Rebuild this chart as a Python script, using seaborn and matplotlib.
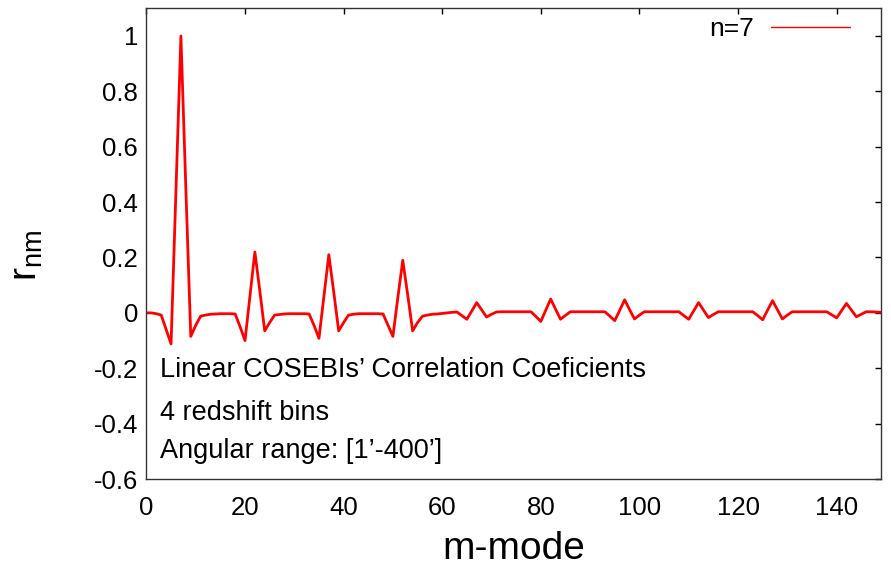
import matplotlib
matplotlib.use("Agg")
import matplotlib.pyplot as plt
from matplotlib.lines import Line2D
import seaborn as sns
import pandas as pd

m_mode = list(range(150))
r_nm = [
    0.0, 0.0, -0.003, -0.008, -0.06, -0.112, 0.44, 1.0, 0.45, -0.085,
    -0.045, -0.012, -0.008, -0.005, -0.004, -0.003, -0.003, -0.003, -0.004, -0.05,
    -0.1, 0.06, 0.22, 0.08, -0.065, -0.035, -0.008, -0.006, -0.004, -0.003,
    -0.003, -0.003, -0.003, -0.004, -0.045, -0.092, 0.06, 0.21, 0.075, -0.065,
    -0.035, -0.008, -0.005, -0.003, -0.003, -0.003, -0.003, -0.003, -0.004, -0.045,
    -0.085, 0.055, 0.19, 0.065, -0.065, -0.035, -0.012, -0.008, -0.005, -0.004,
    -0.002, 0.0, 0.002, 0.003, -0.01, -0.023, 0.007, 0.037, 0.011, -0.015,
    -0.005, 0.003, 0.004, 0.004, 0.004, 0.004, 0.004, 0.004, 0.004, -0.013,
    -0.031, 0.01, 0.05, 0.013, -0.023, -0.009, 0.004, 0.004, 0.004, 0.004,
    0.004, 0.004, 0.004, 0.004, -0.012, -0.028, 0.009, 0.047, 0.012, -0.022,
    -0.008, 0.004, 0.004, 0.004, 0.004, 0.004, 0.004, 0.004, 0.004, -0.01,
    -0.023, 0.007, 0.037, 0.01, -0.017, -0.006, 0.004, 0.004, 0.004, 0.004,
    0.004, 0.004, 0.004, 0.004, -0.01, -0.025, 0.01, 0.044, 0.011, -0.022,
    -0.008, 0.004, 0.004, 0.004, 0.004, 0.004, 0.004, 0.004, 0.004, -0.007,
    -0.018, 0.008, 0.034, 0.01, -0.014, -0.005, 0.004, 0.004, 0.003, 0.002,
]
x_ticks = [0, 20, 40, 60, 80, 100, 120, 140]
y_ticks = [-0.6, -0.4, -0.2, 0, 0.2, 0.4, 0.6, 0.8, 1]
y_tick_labels = ["-0.6", "-0.4", "-0.2", "0", "0.2", "0.4", "0.6", "0.8", "1"]
legend_label = "n=7"
info_lines = ["Linear COSEBIs\u2019 Correlation Coeficients",
              "4 redshift bins",
              "Angular range: [1\u2019-400\u2019]"]

sns.set_theme(style="white")
plt.rcParams["font.family"] = ["Liberation Sans", "DejaVu Sans"]
plt.rcParams["mathtext.fontset"] = "custom"
plt.rcParams["mathtext.rm"] = "Liberation Sans"
plt.rcParams["mathtext.it"] = "Liberation Sans"
plt.rcParams["axes.unicode_minus"] = False
plt.rcParams["text.color"] = "black"
plt.rcParams["axes.labelcolor"] = "black"

df = pd.DataFrame({"m": m_mode, "r": r_nm})

W, H = 891, 571
fig = plt.figure(figsize=(W / 100, H / 100), dpi=100)
ax = fig.add_axes([146.4 / W, 1 - 479 / H, (881 - 146.4) / W, (479 - 8.3) / H])

sns.lineplot(data=df, x="m", y="r", color="red", linewidth=2.0, ax=ax, legend=False)

ax.set_xlim(0, 149)
ax.set_ylim(-0.6, 1.1)
ax.set_xticks(x_ticks)
ax.set_xticklabels([str(t) for t in x_ticks])
ax.set_yticks(y_ticks)
ax.set_yticklabels(y_tick_labels)
ax.tick_params(direction="in", length=4.5, width=1, colors="black",
               top=True, right=True, labelsize=18.5, pad=6)
ax.tick_params(axis="x", pad=12)
for s in ax.spines.values():
    s.set_color("#333333")
    s.set_linewidth(1.0)

ax.set_xlabel("m-mode", fontsize=28, labelpad=8)
ax.set_ylabel(r"r$_{\mathrm{nm}}$", fontsize=28)
ax.yaxis.set_label_coords(-0.138, 0.476)

for txt, base in zip(info_lines, [376.7, 420, 458]):
    fig.text(160 / W, 1 - base / H, txt, fontsize=19.5, va="baseline", ha="left")

handle = Line2D([], [], color="red", linewidth=1.0)
ax.legend([handle], [legend_label], loc="upper right", frameon=False,
          markerfirst=False, fontsize=19, handlelength=3.0, handletextpad=0.65,
          borderpad=0, borderaxespad=0,
          bbox_to_anchor=(850 / W, 1 - 17 / H), bbox_transform=fig.transFigure)

fig.savefig("out.png", dpi=100)
